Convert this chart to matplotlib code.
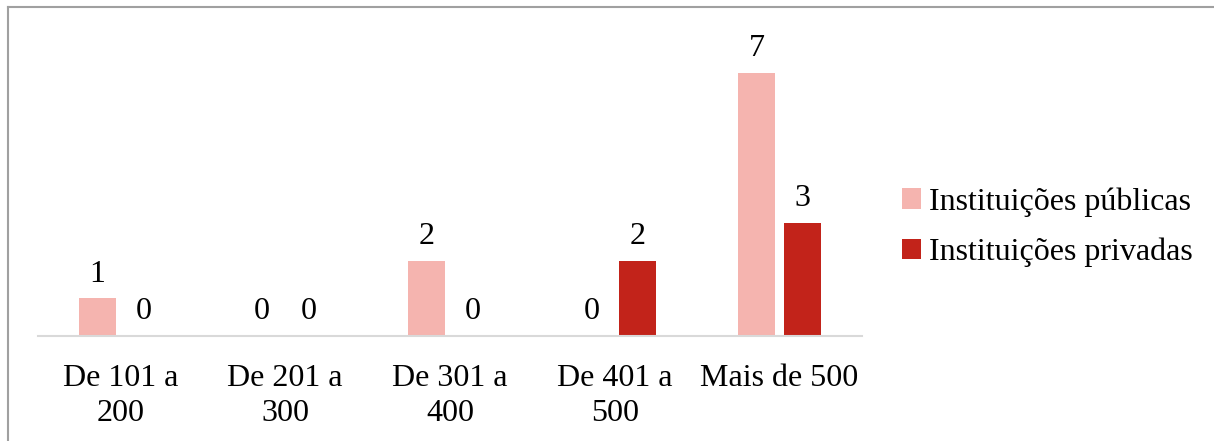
import matplotlib
matplotlib.use("Agg")
import matplotlib.pyplot as plt
from matplotlib.lines import Line2D

categories = ["De 101 a\n200", "De 201 a\n300", "De 301 a\n400", "De 401 a\n500", "Mais de 500"]
publicas = [1, 0, 2, 0, 7]
privadas = [0, 0, 0, 2, 3]
series_names = ["Instituições públicas", "Instituições privadas"]
colors = ["#F5B4AF", "#C2231A"]

plt.rcParams['font.family'] = ['Liberation Serif', 'DejaVu Serif']
FS = 23

fig = plt.figure(figsize=(12.14, 4.41), dpi=100)
ax = fig.add_axes([38/1214, 1-336/441, (862-38)/1214, 301/441])

x = list(range(len(categories)))
off = 0.14
w = 0.225
b1 = ax.bar([i - off for i in x], publicas, width=w, color=colors[0], label=series_names[0])
b2 = ax.bar([i + off for i in x], privadas, width=w, color=colors[1], label=series_names[1])

for bars, vals in ((b1, publicas), (b2, privadas)):
    for r, v in zip(bars, vals):
        ax.annotate(str(v), (r.get_x() + r.get_width()/2, v), xytext=(0, 7),
                    textcoords="offset points", ha="center", va="bottom", fontsize=FS)

ax.set_xlim(-0.5, 4.5)
ax.set_ylim(0, 8)
ax.set_xticks(x)
ax.set_xticklabels(categories, fontsize=FS, linespacing=1.3)
ax.tick_params(axis='x', length=0, pad=20)
ax.set_yticks([])
for s in ("top", "right", "left"):
    ax.spines[s].set_visible(False)
ax.spines["bottom"].set_color("#D9D9D9")
ax.spines["bottom"].set_linewidth(1.5)

fig.legend(handles=[b1, b2], labels=series_names, loc="center left",
           bbox_to_anchor=(0.7375, 0.485), frameon=False, fontsize=FS,
           handlelength=0.6, handleheight=0.6, handletextpad=0.25, labelspacing=0.65,
           borderaxespad=0, borderpad=0.2)

# outer frame (top and left visible)
fig.add_artist(Line2D([8/1214, 1.0], [1-7/441, 1-7/441], color="#A0A0A0", lw=1.5,
                      transform=fig.transFigure))
fig.add_artist(Line2D([8/1214, 8/1214], [0, 1-7/441], color="#A0A0A0", lw=1.5,
                      transform=fig.transFigure))

fig.savefig("out.png", dpi=100)
